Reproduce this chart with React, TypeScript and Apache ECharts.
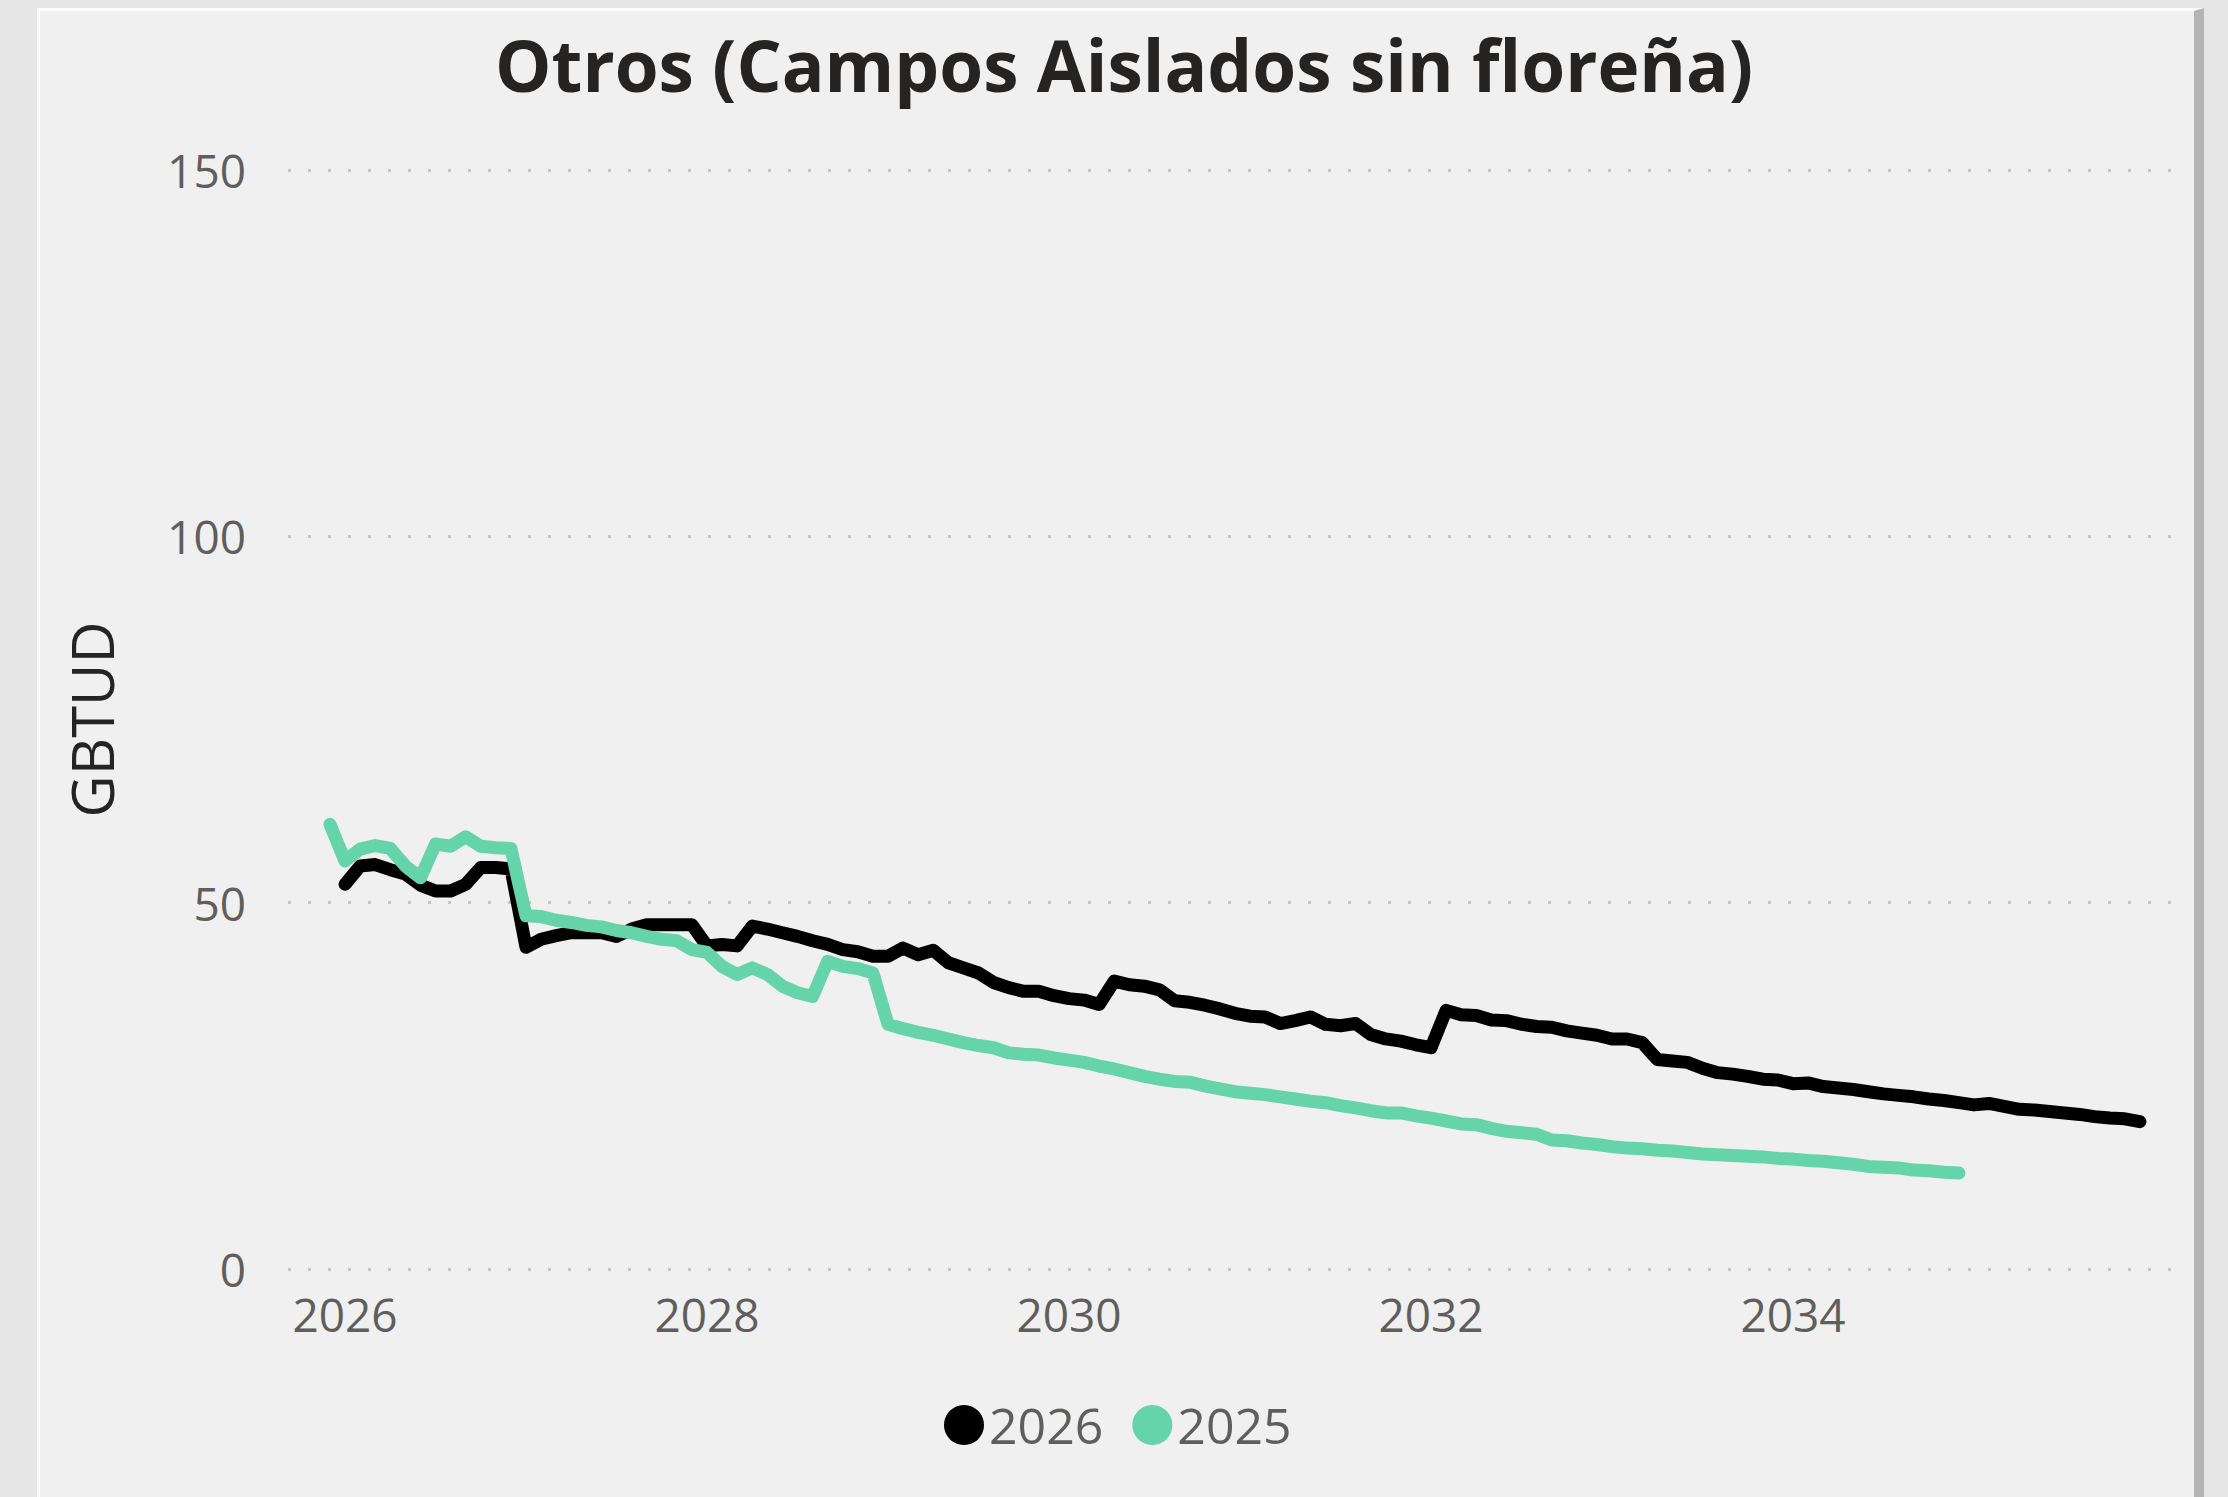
import React, { useEffect, useRef } from "react";
import * as echarts from "echarts";

// ---- Data (monthly values, GBTUD) ----
const seriesNames = ["2026", "2025"];
// Series "2026": monthly from Jan 2026 to Dec 2035
const start2026 = { year: 2026, month: 1 };
const values2026 = [
  52.5, 55.0, 55.2, 54.5, 53.9, 52.4, 51.6, 51.6, 52.5, 54.8, 54.8, 54.6,
  43.9, 45.0, 45.5, 45.9, 45.9, 45.9, 45.4, 46.4, 47.0, 47.0, 47.0, 47.0,
  44.1, 44.3, 44.1, 46.8, 46.4, 45.9, 45.4, 44.8, 44.3, 43.6, 43.3, 42.7,
  42.7, 43.8, 42.9, 43.5, 41.8, 41.1, 40.4, 39.1, 38.4, 37.9, 37.9, 37.3,
  36.9, 36.7, 36.1, 39.3, 38.8, 38.6, 38.1, 36.6, 36.4, 36.0, 35.5, 34.9,
  34.5, 34.4, 33.5, 33.9, 34.4, 33.4, 33.2, 33.5, 32.0, 31.4, 31.1, 30.6,
  30.2, 35.3, 34.7, 34.6, 34.0, 33.9, 33.4, 33.1, 33.0, 32.5, 32.2, 31.9,
  31.4, 31.4, 30.9, 28.6, 28.4, 28.2, 27.4, 26.8, 26.6, 26.3, 25.9, 25.8,
  25.3, 25.4, 24.9, 24.7, 24.5, 24.2, 23.9, 23.7, 23.5, 23.2, 23.0, 22.7,
  22.4, 22.6, 22.2, 21.8, 21.7, 21.5, 21.3, 21.1, 20.8, 20.6, 20.5, 20.1,
];
// Series "2025": monthly from Dec 2025 to Dec 2034
const start2025 = { year: 2025, month: 12 };
const values2025 = [
  60.7,
  55.7, 57.3, 57.8, 57.4, 55.0, 53.4, 58.0, 57.7, 59.0, 57.7, 57.5, 57.4,
  48.2, 48.1, 47.6, 47.3, 46.9, 46.7, 46.2, 45.9, 45.4, 45.0, 44.8, 43.6,
  43.2, 41.3, 40.2, 41.1, 40.2, 38.6, 37.7, 37.2, 42.0, 41.3, 41.0, 40.4,
  33.4, 32.8, 32.3, 31.9, 31.4, 30.9, 30.5, 30.2, 29.5, 29.3, 29.2, 28.8,
  28.5, 28.2, 27.7, 27.3, 26.8, 26.3, 25.9, 25.6, 25.5, 25.0, 24.6, 24.2,
  24.0, 23.8, 23.5, 23.2, 22.9, 22.7, 22.3, 22.0, 21.6, 21.3, 21.3, 20.9,
  20.6, 20.2, 19.8, 19.7, 19.2, 18.8, 18.6, 18.4, 17.6, 17.5, 17.2, 17.0,
  16.7, 16.5, 16.4, 16.2, 16.1, 15.9, 15.7, 15.6, 15.5, 15.4, 15.3, 15.1,
  15.0, 14.8, 14.7, 14.5, 14.3, 14.0, 13.9, 13.8, 13.5, 13.4, 13.2, 13.1,
];
const xTickLabels = [2026, 2028, 2030, 2032, 2034];
const yTickValues = [0, 50, 100, 150];

const titleText = "Otros (Campos Aislados sin floreña)";
const yAxisTitle = "GBTUD";

// convert monthly series into [decimal year, value] pairs
function toPairs(start: { year: number; month: number }, values: number[]) {
  return values.map((v, i) => {
    const monthIndex = start.month - 1 + i;
    return [start.year + monthIndex / 12, v];
  });
}

const FONT = "'Open Sans', 'Noto Sans', sans-serif";
const LABEL_COLOR = "#605E5C";

export default function App() {
  const ref = useRef<HTMLDivElement>(null);

  useEffect(() => {
    document.body.style.margin = "0";
    const chart = echarts.init(ref.current!, null, { renderer: "svg" });
    chart.setOption({
      animation: false,
      backgroundColor: "transparent",
      title: {
        text: titleText,
        left: 1119,
        top: 24,
        textAlign: "center",
        textStyle: {
          fontFamily: FONT,
          fontWeight: "bold",
          fontSize: 71,
          color: "#252423",
        },
      },
      grid: { left: 288, right: 56, top: 170, bottom: 228 },
      legend: {
        data: seriesNames,
        left: 944,
        top: 1400,
        padding: 0,
        icon: "circle",
        itemWidth: 40,
        itemHeight: 40,
        itemGap: 29,
        textStyle: { fontFamily: FONT, fontSize: 50, color: LABEL_COLOR },
      },
      xAxis: {
        type: "value",
        min: 2025.685,
        max: 2036.094,
        axisLine: { show: false },
        axisTick: { show: false },
        splitLine: { show: false },
        axisLabel: {
          customValues: xTickLabels,
          formatter: (v: number) => String(Math.round(v)),
          fontFamily: FONT,
          fontSize: 46,
          color: LABEL_COLOR,
          margin: 22,
        },
      },
      yAxis: {
        type: "value",
        min: yTickValues[0],
        max: yTickValues[yTickValues.length - 1],
        interval: 50,
        name: yAxisTitle,
        nameLocation: "middle",
        nameRotate: 90,
        nameGap: 168,
        nameTextStyle: { fontFamily: FONT, fontSize: 58, color: "#252423" },
        axisLine: { show: false },
        axisTick: { show: false },
        axisLabel: {
          fontFamily: FONT,
          fontSize: 46,
          color: LABEL_COLOR,
          margin: 42,
        },
        splitLine: {
          show: true,
          lineStyle: { color: "#c6c6c6", width: 3, type: [3, 17] },
        },
      },
      series: [
        {
          name: seriesNames[0],
          type: "line",
          data: toPairs(start2026, values2026),
          symbol: "none",
          showSymbol: false,
          itemStyle: { color: "#000000" },
          lineStyle: { color: "#000000", width: 13, cap: "round", join: "round" },
          z: 3,
        },
        {
          name: seriesNames[1],
          type: "line",
          data: toPairs(start2025, values2025),
          symbol: "none",
          showSymbol: false,
          itemStyle: { color: "#66D4AA" },
          lineStyle: { color: "#66D4AA", width: 13, cap: "round", join: "round" },
          z: 4,
        },
      ],
    });
    return () => chart.dispose();
  }, []);

  return (
    <div
      style={{
        position: "fixed",
        left: 0,
        top: 0,
        width: 2228,
        height: 1497,
        background: "#e6e6e6",
        overflow: "hidden",
      }}
    >
      <div
        style={{
          position: "absolute",
          left: 37,
          top: 8,
          width: 2167,
          height: 1500,
          background: "#f0f0f0",
          borderTop: "3px solid #fbfbfb",
          borderLeft: "3px solid #fbfbfb",
          borderRight: "10px solid #b4b4b4",
          boxSizing: "border-box",
        }}
      />
      <div
        ref={ref}
        style={{ position: "absolute", left: 0, top: 0, width: 2228, height: 1497 }}
      />
    </div>
  );
}
